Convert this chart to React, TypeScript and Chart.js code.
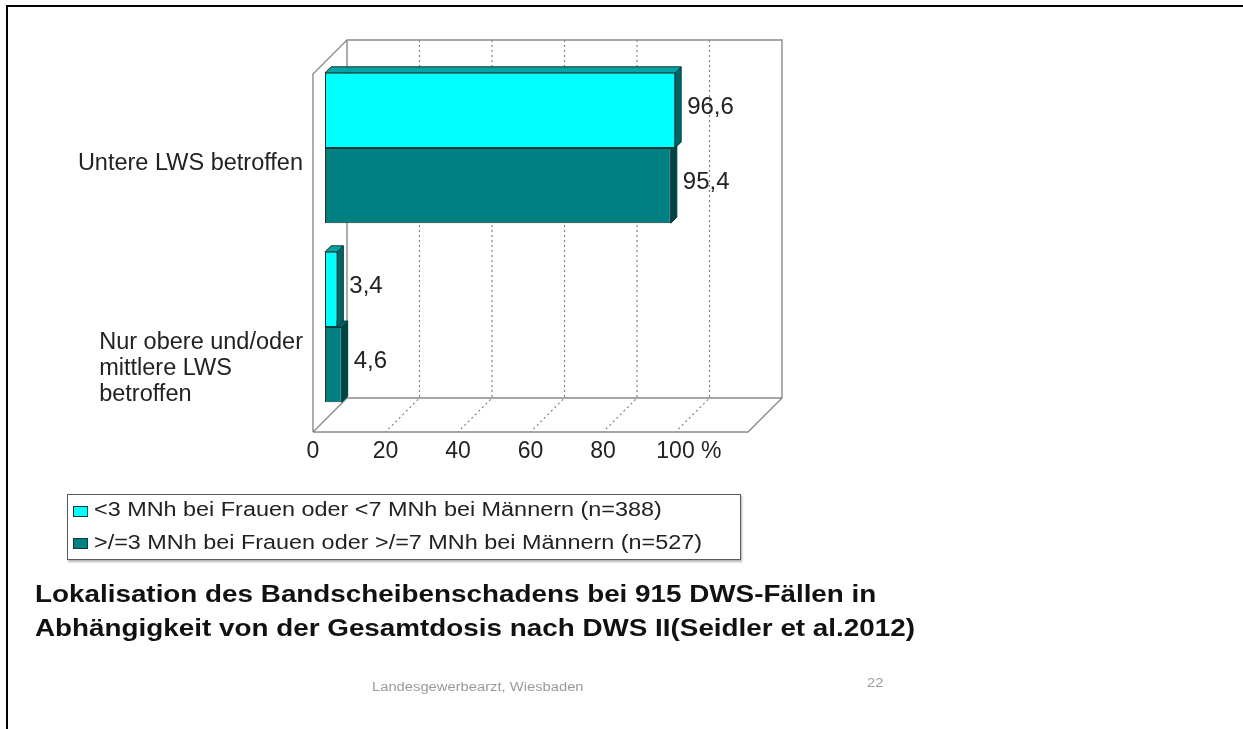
import React, { useEffect, useRef } from "react";
import { Chart, registerables } from "chart.js";

Chart.register(...registerables);

// ---- data ----
const CATEGORIES: string[][] = [
  ["Untere LWS betroffen"],
  ["Nur obere und/oder", "mittlere LWS", "betroffen"],
];
const SERIES_LABELS = [
  "<3 MNh bei Frauen oder <7 MNh bei Männern (n=388)",
  ">/=3 MNh bei Frauen oder >/=7 MNh bei Männern (n=527)",
];
const LOW_DOSE = [96.6, 3.4];
const HIGH_DOSE = [95.4, 4.6];
const X_TICKS = [0, 20, 40, 60, 80, 100];
const X_MAX = 120;
const X_UNIT = "%";
const TITLE_LINES = [
  "Lokalisation des Bandscheibenschadens bei 915 DWS-Fällen in",
  "Abhängigkeit von der Gesamtdosis nach DWS II(Seidler et al.2012)",
];
const FOOTER_TEXT = "Landesgewerbearzt,  Wiesbaden";
const PAGE_NUMBER = "22";

// ---- styles ----
const FONT = "'Liberation Sans', Arial, Helvetica, sans-serif";
const FRONT_COLORS = ["#00FFFF", "#008080"];
const TOP_COLORS = ["#00A4A4", "#006A6A"];
const SIDE_COLORS = ["#006464", "#004444"];
const EDGE_COLOR = "#103838";
const WALL_COLOR = "#8a8a8a";
const GRID_COLOR = "#808080";
const TEXT_COLOR = "#222222";

// 3D geometry (pixels): back wall lies up-right of the bar plane, front edge down-left
const BACK_OFFSET = 22;
const FRONT_OFFSET = 12;
const PLANE_SHIFT = 3.5;
const BAR_DEPTH = 6;
const TICK_FONT_SIZE = 23;
const TICK_PADDING = 21;

const fmt = (v: number) => v.toFixed(1).replace(".", ",");

const box3d = {
  id: "box3d",
  beforeDatasetsDraw(chart: any) {
    const { ctx, chartArea } = chart;
    const xs = chart.scales.x;
    const xL = xs.getPixelForValue(xs.min);
    const xR = xs.getPixelForValue(xs.max);
    const planeTop = chartArea.top + PLANE_SHIFT;
    const planeBottom = chartArea.bottom + PLANE_SHIFT;
    const bT = planeTop - BACK_OFFSET;
    const bB = planeBottom - BACK_OFFSET;
    const fB = planeBottom + FRONT_OFFSET;
    const fTop = bT + BACK_OFFSET + FRONT_OFFSET;

    ctx.save();
    // dotted grid on back wall and floor
    ctx.strokeStyle = GRID_COLOR;
    ctx.lineWidth = 1.2;
    ctx.setLineDash([2, 3]);
    for (const t of xs.ticks) {
      if (t.value <= xs.min || t.value >= xs.max) continue;
      const px = xs.getPixelForValue(t.value);
      ctx.beginPath();
      ctx.moveTo(px + BACK_OFFSET, bT);
      ctx.lineTo(px + BACK_OFFSET, bB);
      ctx.lineTo(px - FRONT_OFFSET, fB);
      ctx.stroke();
    }
    ctx.setLineDash([]);

    // walls and floor outline
    ctx.strokeStyle = WALL_COLOR;
    ctx.lineWidth = 1.4;
    ctx.beginPath();
    ctx.rect(xL + BACK_OFFSET, bT, xR - xL, bB - bT);
    ctx.moveTo(xL - FRONT_OFFSET, fB);
    ctx.lineTo(xL - FRONT_OFFSET, fTop);
    ctx.lineTo(xL + BACK_OFFSET, bT);
    ctx.moveTo(xL - FRONT_OFFSET, fB);
    ctx.lineTo(xL + BACK_OFFSET, bB);
    ctx.moveTo(xL - FRONT_OFFSET, fB);
    ctx.lineTo(xR - FRONT_OFFSET, fB);
    ctx.lineTo(xR + BACK_OFFSET, bB);
    ctx.stroke();

    // top and side faces of the bars (front faces are drawn by the chart)
    const nSets = chart.data.datasets.length;
    for (let d = nSets - 1; d >= 0; d--) {
      const meta = chart.getDatasetMeta(d);
      meta.data.forEach((el: any) => {
        const { x, y, base, height } = el.getProps(["x", "y", "base", "height"], true);
        const top = y - height / 2;
        const bottom = y + height / 2;
        ctx.strokeStyle = EDGE_COLOR;
        ctx.lineWidth = 1;
        // top face
        ctx.beginPath();
        ctx.moveTo(base, top);
        ctx.lineTo(base + BAR_DEPTH, top - BAR_DEPTH);
        ctx.lineTo(x + BAR_DEPTH, top - BAR_DEPTH);
        ctx.lineTo(x, top);
        ctx.closePath();
        ctx.fillStyle = TOP_COLORS[d];
        ctx.fill();
        ctx.stroke();
        // side face
        ctx.beginPath();
        ctx.moveTo(x, top);
        ctx.lineTo(x + BAR_DEPTH, top - BAR_DEPTH);
        ctx.lineTo(x + BAR_DEPTH, bottom - BAR_DEPTH);
        ctx.lineTo(x, bottom);
        ctx.closePath();
        ctx.fillStyle = SIDE_COLORS[d];
        ctx.fill();
        ctx.stroke();
      });
    }
    ctx.restore();
  },
  afterDatasetsDraw(chart: any) {
    const { ctx } = chart;
    ctx.save();
    ctx.fillStyle = TEXT_COLOR;
    ctx.font = `24px ${FONT}`;
    ctx.textAlign = "left";
    ctx.textBaseline = "middle";
    chart.data.datasets.forEach((ds: any, d: number) => {
      const meta = chart.getDatasetMeta(d);
      meta.data.forEach((el: any, i: number) => {
        const { x, y } = el.getProps(["x", "y"], true);
        ctx.fillText(fmt(ds.data[i]), x + BAR_DEPTH + 6, y - BAR_DEPTH / 2 - 0.5);
      });
    });
    ctx.restore();
  },
  afterDraw(chart: any) {
    const { ctx } = chart;
    const xs = chart.scales.x;
    const ys = chart.scales.y;
    ctx.save();
    ctx.fillStyle = TEXT_COLOR;
    ctx.textBaseline = "middle";
    ctx.textAlign = "left";

    // category labels: lines left-aligned inside a block that ends near the left wall
    ctx.font = `23.5px ${FONT}`;
    const rightEdge = xs.getPixelForValue(0) - 22;
    CATEGORIES.forEach((lines, i) => {
      const widest = Math.max(...lines.map((l) => ctx.measureText(l).width));
      const left = rightEdge - widest;
      const y0 = ys.getPixelForValue(i) + 16;
      lines.forEach((line, k) => ctx.fillText(line, left, y0 + k * 25.7));
    });

    // unit after the last labelled tick
    ctx.font = `${TICK_FONT_SIZE}px ${FONT}`;
    const last = X_TICKS[X_TICKS.length - 1];
    const lastText = String(last);
    const tx =
      xs.getPixelForValue(last) - FRONT_OFFSET +
      ctx.measureText(lastText).width / 2 + ctx.measureText(" ").width;
    const ty = xs.top + TICK_PADDING + (TICK_FONT_SIZE * 1.2) / 2;
    ctx.fillText(X_UNIT, tx, ty);
    ctx.restore();
  },
};

function ChartCanvas() {
  const ref = useRef<HTMLCanvasElement | null>(null);
  useEffect(() => {
    if (!ref.current) return;
    const chart = new Chart(ref.current, {
      type: "bar",
      data: {
        labels: CATEGORIES.map((l) => l.join(" ")),
        datasets: [
          {
            label: SERIES_LABELS[0],
            data: LOW_DOSE,
            backgroundColor: FRONT_COLORS[0],
            borderColor: EDGE_COLOR,
            borderWidth: 1,
            borderSkipped: false,
            categoryPercentage: 0.84,
            barPercentage: 1,
          },
          {
            label: SERIES_LABELS[1],
            data: HIGH_DOSE,
            backgroundColor: FRONT_COLORS[1],
            borderColor: EDGE_COLOR,
            borderWidth: 1,
            borderSkipped: false,
            categoryPercentage: 0.84,
            barPercentage: 1,
          },
        ],
      },
      options: {
        indexAxis: "y",
        responsive: false,
        animation: false,
        events: [],
        layout: { padding: { left: 325, right: 483, top: 58.5, bottom: 262.5 } },
        plugins: {
          legend: { display: false },
          tooltip: { enabled: false },
          title: { display: false },
        },
        scales: {
          x: {
            type: "linear",
            position: "bottom",
            min: 0,
            max: X_MAX,
            grid: { display: false, drawTicks: false, tickLength: 0 },
            border: { display: false },
            ticks: {
              stepSize: 20,
              padding: TICK_PADDING,
              labelOffset: -FRONT_OFFSET,
              maxRotation: 0,
              minRotation: 0,
              autoSkip: false,
              color: TEXT_COLOR,
              font: { family: FONT, size: TICK_FONT_SIZE },
              callback: (v: any) => (X_TICKS.includes(Number(v)) ? String(v) : ""),
            },
            afterFit: (s: any) => {
              s.height = 50;
            },
          },
          y: {
            type: "category",
            display: false,
            offset: true,
          },
        },
      } as any,
      plugins: [box3d],
    });
    return () => chart.destroy();
  }, []);
  return (
    <canvas
      ref={ref}
      width={1243}
      height={729}
      style={{ position: "absolute", left: 0, top: 0 }}
    />
  );
}

const stretched = (scale: number): React.CSSProperties => ({
  display: "inline-block",
  transform: `scaleX(${scale})`,
  transformOrigin: "left center",
  whiteSpace: "nowrap",
});

export default function App() {
  const legendRowsY = [16.5, 49];
  return (
    <div
      style={{
        position: "fixed",
        left: 0,
        top: 0,
        width: 1243,
        height: 729,
        background: "#ffffff",
        overflow: "hidden",
        fontFamily: FONT,
      }}
    >
      <div
        style={{
          position: "absolute",
          left: 6,
          top: 5,
          right: -4,
          bottom: -4,
          borderTop: "2px solid #000",
          borderLeft: "2px solid #000",
        }}
      />
      <ChartCanvas />

      {/* legend */}
      <div
        style={{
          position: "absolute",
          left: 67,
          top: 494,
          width: 674,
          height: 66,
          border: "1.5px solid #5a5a5a",
          boxShadow: "1px 2px 2px rgba(0,0,0,0.3)",
          background: "#fff",
          boxSizing: "border-box",
        }}
      >
        {SERIES_LABELS.map((label, i) => (
          <div key={label}>
            <div
              style={{
                position: "absolute",
                left: 5,
                top: legendRowsY[i] - 6,
                width: 15,
                height: 11,
                background: FRONT_COLORS[i],
                border: `1px solid ${EDGE_COLOR}`,
                boxSizing: "border-box",
              }}
            />
            <div
              style={{
                position: "absolute",
                left: 26,
                top: legendRowsY[i] - 9.75 - 1.5,
                fontSize: 19.5,
                lineHeight: "19.5px",
                color: TEXT_COLOR,
              }}
            >
              <span style={stretched(1.2)}>{label}</span>
            </div>
          </div>
        ))}
      </div>

      {/* title */}
      {TITLE_LINES.map((line, i) => (
        <div
          key={line}
          style={{
            position: "absolute",
            left: 35,
            top: 594 + i * 34 - 11.5,
            fontSize: 23,
            lineHeight: "23px",
            fontWeight: "bold",
            color: "#111",
          }}
        >
          <span style={stretched(1.21)}>{line}</span>
        </div>
      ))}

      {/* footer */}
      <div
        style={{
          position: "absolute",
          left: 372,
          top: 687 - 6.25,
          fontSize: 12.5,
          lineHeight: "12.5px",
          color: "#9a9a9a",
        }}
      >
        <span style={stretched(1.18)}>{FOOTER_TEXT}</span>
      </div>
      <div
        style={{
          position: "absolute",
          left: 867,
          top: 683 - 6.25,
          fontSize: 12.5,
          lineHeight: "12.5px",
          color: "#9a9a9a",
        }}
      >
        <span style={stretched(1.18)}>{PAGE_NUMBER}</span>
      </div>
    </div>
  );
}
